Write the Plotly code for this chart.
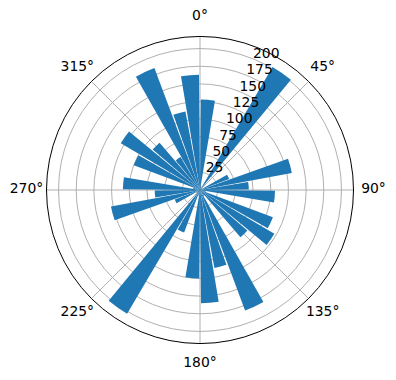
import plotly.graph_objects as go

# bin start angles (degrees, clockwise from north) and bar lengths
bin_starts = [0, 10, 20, 30, 40, 50, 60, 70, 80, 90, 100, 110,
              120, 130, 140, 150, 160, 170, 180, 190, 200, 210, 220, 230,
              240, 250, 260, 270, 280, 290, 300, 310, 320, 330, 340, 350]
values = [128, 6, 4, 202, 3, 2, 44, 132, 69, 106, 8, 110,
          122, 88, 10, 182, 112, 160, 125, 8, 64, 203, 5, 6,
          38, 128, 64, 109, 10, 100, 130, 88, 54, 184, 113, 163]
radial_ticks = [25, 50, 75, 100, 125, 150, 175, 200]
angle_ticks = [0, 45, 90, 135, 180, 225, 270, 315]
angle_labels = ["0°", "45°", "90°", "135°", "180°", "225°", "270°", "315°"]

bin_width = 10
bar_width = 9
theta = [b + bin_width / 2 for b in bin_starts]
r_max = 217

W, H = 396, 380
cx, cy, R = 200, 190, 153.5
R_lab = 173.5      # px radius where angular labels are centred
R_outer = 185      # px radius of the label overlay subplot
label_r = r_max * R_lab / R_outer * (R_outer / R)  # in main-axis units
outer_max = r_max * R_outer / R


def dom(radius, dx=0, dy=0):
    return dict(x=[(cx - radius + dx) / W, (cx + radius + dx) / W],
                y=[(H - cy - radius + dy) / H, (H - cy + radius + dy) / H])


fig = go.Figure()
fig.add_trace(go.Barpolar(
    r=values, theta=theta, width=[bar_width] * len(values),
    marker=dict(color="#1f77b4", line=dict(width=0)),
    subplot="polar",
))
# angular labels, centred on their direction like matplotlib's
fig.add_trace(go.Scatterpolar(
    r=[label_r] * len(angle_ticks), theta=angle_ticks, text=angle_labels,
    mode="text", textposition="middle center",
    textfont=dict(family="DejaVu Sans", size=13.9, color="black"),
    subplot="polar2", hoverinfo="skip",
))
# empty host for radial-label overlay
fig.add_trace(go.Scatterpolar(r=[], theta=[], subplot="polar3",
                              mode="markers", showlegend=False))

fig.update_layout(
    width=W, height=H,
    margin=dict(l=0, r=0, t=0, b=0),
    paper_bgcolor="white",
    showlegend=False,
    font=dict(family="DejaVu Sans", size=13.9, color="black"),
    polar=dict(
        domain=dom(R),
        bgcolor="white",
        bargap=0,
        angularaxis=dict(
            rotation=90, direction="clockwise",
            tickmode="array", tickvals=angle_ticks, showticklabels=False,
            showline=True, linecolor="black", linewidth=1,
            showgrid=True, gridcolor="#b0b0b0", gridwidth=0.8,
            ticks="", layer="below traces",
        ),
        radialaxis=dict(
            range=[0, r_max], angle=67.5,
            tickmode="array", tickvals=radial_ticks,
            showline=False, ticks="", showticklabels=False,
            showgrid=True, gridcolor="#b0b0b0", gridwidth=0.8,
            layer="below traces",
        ),
    ),
    polar2=dict(
        domain=dom(R_outer),
        bgcolor="rgba(0,0,0,0)",
        angularaxis=dict(visible=False, rotation=90, direction="clockwise"),
        radialaxis=dict(visible=False, range=[0, outer_max]),
    ),
    polar3=dict(
        domain=dom(R, -8, 11),
        bgcolor="rgba(0,0,0,0)",
        angularaxis=dict(visible=False, rotation=90, direction="clockwise"),
        radialaxis=dict(
            range=[0, r_max], angle=67.5, side="clockwise",
            tickmode="array", tickvals=radial_ticks,
            showline=False, ticks="", showgrid=False,
            tickangle=67.5, layer="above traces",
        ),
    ),
)
fig.write_html("out.html")
